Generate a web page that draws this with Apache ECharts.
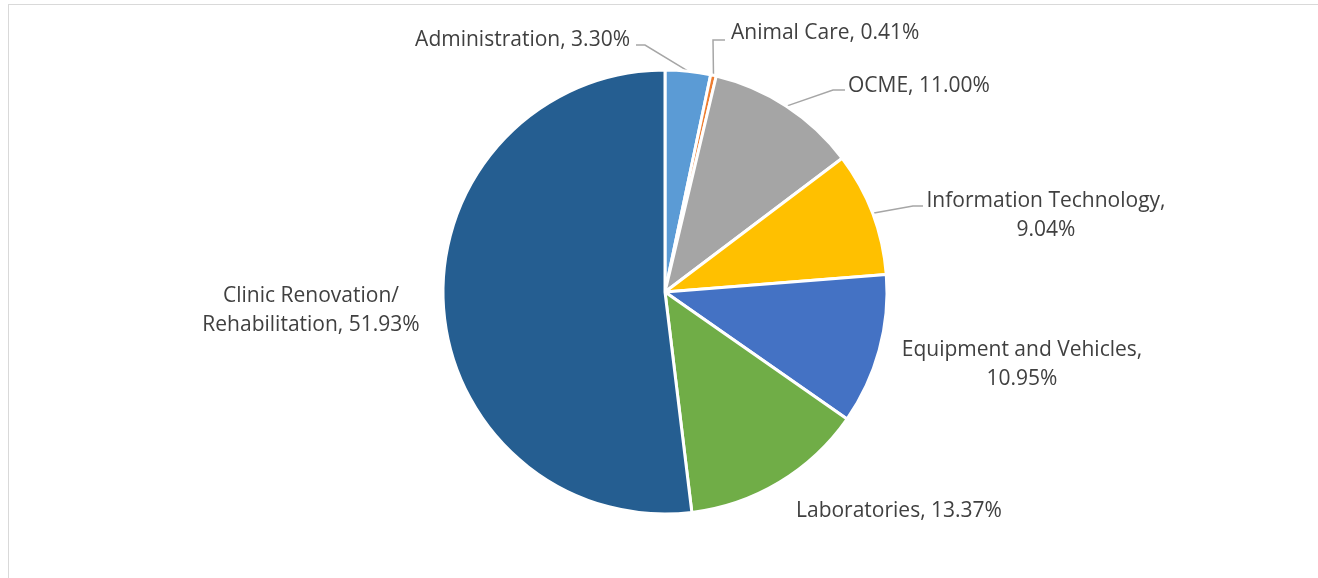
<!DOCTYPE html>
<html>
<head>
<meta charset="utf-8">
<script src="https://cdn.jsdelivr.net/npm/echarts@6/dist/echarts.min.js"></script>
<style>
html, body { margin: 0; padding: 0; background: #fff; }
#chart { width: 1318px; height: 578px; }
.frame { position: absolute; left: 8px; top: 4px; width: 1330px; height: 600px; border: 1px solid #d9d9d9; box-sizing: border-box; pointer-events: none; }
</style>
</head>
<body>
<div class="frame"></div>
<div id="chart"></div>
<script>
// slices, clockwise from 12 o'clock
var categories = ['Administration', 'Animal Care', 'OCME', 'Information Technology', 'Equipment and Vehicles', 'Laboratories', 'Clinic Renovation/\nRehabilitation']
var values = [3.30, 0.41, 11.00, 9.04, 10.95, 13.37, 51.93]
var wrapLabel = [false, false, false, true, true, false, false]
var colors = ['#5b9bd5', '#ed7d31', '#a5a5a5', '#ffc000', '#4472c4', '#70ad47', '#255e91']

var center = [665, 292]
var radius = 222
// label spots as offsets from the pie centre (like Excel's moved labels)
var labelSpots = [
    { at: [-35, -252], align: 'right', elbow: [-20, -247], end: [-29, -247] },
    { at: [66, -259], align: 'left', elbow: [48, -252], end: [60, -252] },
    { at: [183, -206], align: 'left', elbow: [168, -202], end: [180, -202] },
    { at: [381, -76], align: 'center', elbow: [248, -86], end: [258, -86] },
    { at: [357, 73], align: 'center' },
    { at: [131, 219], align: 'left' },
    { at: [-354, 19], align: 'center' }
]

var pieData = []
categories.forEach(function(name, i) {
    pieData.push({
        name: name,
        value: values[i],
        wrap: wrapLabel[i],
        labelLine: { show: !!labelSpots[i].elbow }
    })
})

var myChart = echarts.init(document.getElementById('chart'))
var option = {
    animation: false,
    color: colors,
    series: [{
        type: 'pie',
        center: center,
        radius: radius,
        startAngle: 90,
        clockwise: true,
        avoidLabelOverlap: false,
        data: pieData,
        itemStyle: {
            borderColor: '#fff',
            borderWidth: 3
        },
        label: {
            show: true,
            position: 'outside',
            fontFamily: 'Open Sans',
            fontSize: 21,
            color: '#404040',
            lineHeight: 29,
            formatter: function(p) {
                return p.name + ',' + (p.data.wrap ? '\n' : ' ') + p.value.toFixed(2) + '%'
            }
        },
        labelLine: {
            show: true,
            length: 15,
            length2: 10,
            lineStyle: { color: '#a6a6a6', width: 1.5 }
        },
        labelLayout: function(params) {
            var s = labelSpots[params.dataIndex]
            var out = {
                x: center[0] + s.at[0],
                y: center[1] + s.at[1],
                align: s.align,
                verticalAlign: 'middle'
            }
            if (s.elbow && params.labelLinePoints) {
                out.labelLinePoints = [
                    params.labelLinePoints[0],
                    [center[0] + s.elbow[0], center[1] + s.elbow[1]],
                    [center[0] + s.end[0], center[1] + s.end[1]]
                ]
            }
            return out
        }
    }]
}
myChart.setOption(option)
window.addEventListener('resize', function() {
    myChart.resize()
})
</script>
</body>
</html>
